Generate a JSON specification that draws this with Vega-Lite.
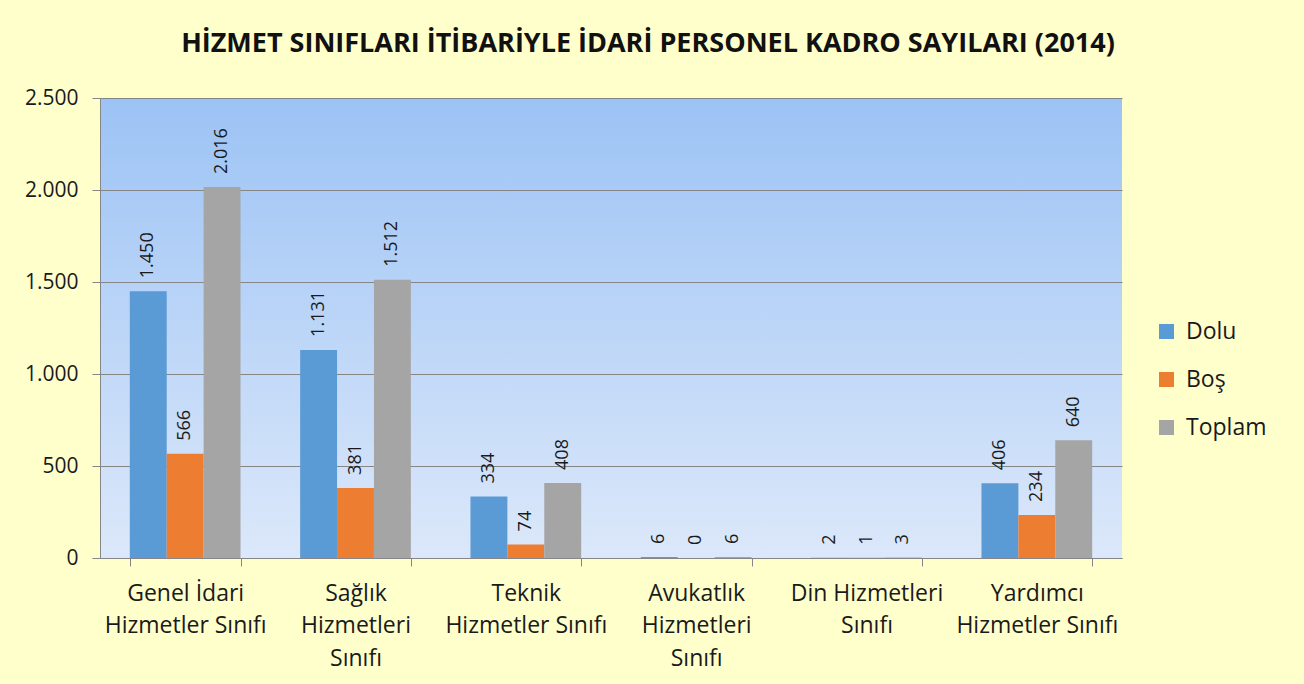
{
  "$schema": "https://vega.github.io/schema/vega-lite/v6.json",
  "width": 1022,
  "height": 460,
  "autosize": {"type": "none"},
  "padding": {"left": 100, "top": 98, "right": 182, "bottom": 126},
  "background": "#FFFFCC",
  "title": {
    "text": "HİZMET SINIFLARI İTİBARİYLE İDARİ PERSONEL KADRO SAYILARI (2014)",
    "font": "Open Sans",
    "fontSize": 27,
    "fontWeight": "bold",
    "color": "#111111",
    "anchor": "middle",
    "dx": 37,
    "offset": 29
  },
  "config": {
    "locale": {"number": {"decimal": ",", "thousands": ".", "grouping": [3], "currency": ["", " TL"]}},
    "view": {
      "stroke": null,
      "fill": {
        "gradient": "linear",
        "x1": 0, "y1": 0, "x2": 0, "y2": 1,
        "stops": [
          {"offset": 0, "color": "#9CC3F5"},
          {"offset": 1, "color": "#DCE8FA"}
        ]
      }
    },
    "font": "Open Sans"
  },
  "data": {
    "values": [
      {"sinif": "Genel İdari Hizmetler Sınıfı", "seri": "Dolu", "deger": 1450},
      {"sinif": "Genel İdari Hizmetler Sınıfı", "seri": "Boş", "deger": 566},
      {"sinif": "Genel İdari Hizmetler Sınıfı", "seri": "Toplam", "deger": 2016},
      {"sinif": "Sağlık Hizmetleri Sınıfı", "seri": "Dolu", "deger": 1131},
      {"sinif": "Sağlık Hizmetleri Sınıfı", "seri": "Boş", "deger": 381},
      {"sinif": "Sağlık Hizmetleri Sınıfı", "seri": "Toplam", "deger": 1512},
      {"sinif": "Teknik Hizmetler Sınıfı", "seri": "Dolu", "deger": 334},
      {"sinif": "Teknik Hizmetler Sınıfı", "seri": "Boş", "deger": 74},
      {"sinif": "Teknik Hizmetler Sınıfı", "seri": "Toplam", "deger": 408},
      {"sinif": "Avukatlık Hizmetleri Sınıfı", "seri": "Dolu", "deger": 6},
      {"sinif": "Avukatlık Hizmetleri Sınıfı", "seri": "Boş", "deger": 0},
      {"sinif": "Avukatlık Hizmetleri Sınıfı", "seri": "Toplam", "deger": 6},
      {"sinif": "Din Hizmetleri Sınıfı", "seri": "Dolu", "deger": 2},
      {"sinif": "Din Hizmetleri Sınıfı", "seri": "Boş", "deger": 1},
      {"sinif": "Din Hizmetleri Sınıfı", "seri": "Toplam", "deger": 3},
      {"sinif": "Yardımcı Hizmetler Sınıfı", "seri": "Dolu", "deger": 406},
      {"sinif": "Yardımcı Hizmetler Sınıfı", "seri": "Boş", "deger": 234},
      {"sinif": "Yardımcı Hizmetler Sınıfı", "seri": "Toplam", "deger": 640}
    ]
  },
  "encoding": {
    "x": {
      "field": "sinif",
      "type": "nominal",
      "sort": null,
      "scale": {"paddingInner": 0.35, "paddingOuter": 0.175},
      "axis": {
        "title": null,
        "labelAngle": 0,
        "tickBand": "extent",
        "tickSize": 8,
        "tickColor": "#868686",
        "domainColor": "#868686",
        "labelFont": "Open Sans",
        "labelFontSize": 23,
        "labelColor": "#1a1a1a",
        "labelPadding": 16,
        "labelLineHeight": 32.5,
        "labelBaseline": "top",
        "labelLimit": 0,
        "labelExpr": "datum.value == 'Genel İdari Hizmetler Sınıfı' ? ['Genel İdari', 'Hizmetler Sınıfı'] : datum.value == 'Sağlık Hizmetleri Sınıfı' ? ['Sağlık', 'Hizmetleri', 'Sınıfı'] : datum.value == 'Teknik Hizmetler Sınıfı' ? ['Teknik', 'Hizmetler Sınıfı'] : datum.value == 'Avukatlık Hizmetleri Sınıfı' ? ['Avukatlık', 'Hizmetleri', 'Sınıfı'] : datum.value == 'Din Hizmetleri Sınıfı' ? ['Din Hizmetleri', 'Sınıfı'] : datum.value == 'Yardımcı Hizmetler Sınıfı' ? ['Yardımcı', 'Hizmetler Sınıfı'] : ''"
      }
    },
    "xOffset": {
      "field": "seri",
      "type": "nominal",
      "sort": ["Dolu", "Boş", "Toplam"],
      "scale": {"paddingInner": 0, "paddingOuter": 0}
    },
    "y": {
      "field": "deger",
      "type": "quantitative",
      "scale": {"domain": [0, 2500], "nice": false},
      "axis": {
        "title": null,
        "values": [0, 500, 1000, 1500, 2000, 2500],
        "format": ",d",
        "grid": true,
        "gridColor": "#868686",
        "gridOpacity": 1,
        "domainColor": "#868686",
        "tickColor": "#868686",
        "tickSize": 8,
        "labelFont": "Open Sans",
        "labelFontSize": 21,
        "labelColor": "#1a1a1a",
        "labelPadding": 14
      }
    }
  },
  "layer": [
    {
      "mark": {"type": "bar"},
      "encoding": {
        "color": {
          "field": "seri",
          "type": "nominal",
          "sort": ["Dolu", "Boş", "Toplam"],
          "scale": {"domain": ["Dolu", "Boş", "Toplam"], "range": ["#5B9BD5", "#ED7D31", "#A5A5A5"]},
          "legend": {
            "title": null,
            "orient": "none",
            "legendX": 1055,
            "legendY": 222,
            "symbolType": "square",
            "symbolSize": 225,
            "symbolStrokeWidth": 0,
            "labelFont": "Open Sans",
            "labelFontSize": 23,
            "labelColor": "#1a1a1a",
            "labelOffset": 8,
            "rowPadding": 24
          }
        }
      }
    },
    {
      "mark": {"type": "text", "angle": 270, "align": "left", "baseline": "middle", "dx": 13, "font": "Open Sans", "fontSize": 18, "color": "#1a1a1a"},
      "encoding": {
        "text": {"field": "deger", "type": "quantitative", "format": ",d"}
      }
    }
  ]
}
